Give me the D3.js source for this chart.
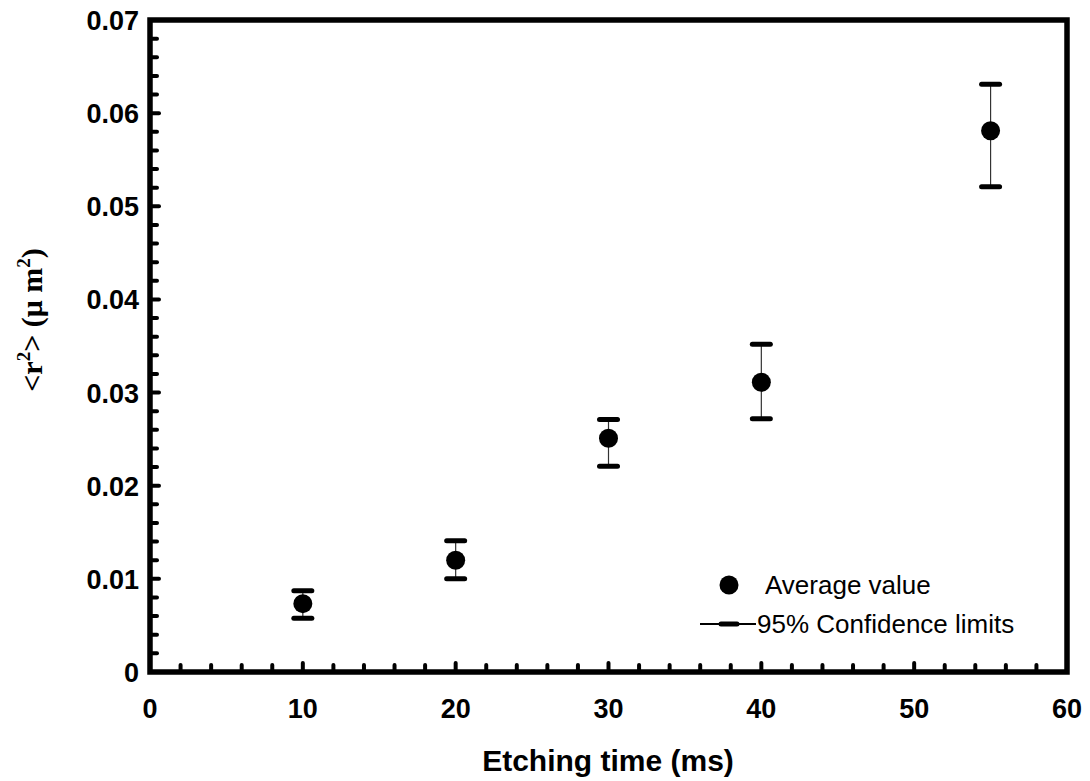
<!DOCTYPE html>
<html><head><meta charset="utf-8">
<script src="https://cdn.jsdelivr.net/npm/d3@7"></script>
<style>body{margin:0;background:#fff}svg{display:block}</style>
</head><body>
<script>
const etchTime = [10, 20, 30, 40, 55];
const avgValue = [0.00734, 0.0120, 0.0251, 0.0311, 0.0581];
const upperLimit = [0.00873, 0.0141, 0.0271, 0.0352, 0.0631];
const lowerLimit = [0.00577, 0.0100, 0.0221, 0.0272, 0.0521];
const xTicks = [0, 10, 20, 30, 40, 50, 60];
const yTicks = [0, 0.01, 0.02, 0.03, 0.04, 0.05, 0.06, 0.07];
const yTickLabels = ["0", "0.01", "0.02", "0.03", "0.04", "0.05", "0.06", "0.07"];

const W = 1090, H = 781;
const L = 150, R = 1067, T = 20, B = 672;
const svg = d3.select("body").append("svg").attr("width", W).attr("height", H);
const x = d3.scaleLinear().domain([0, 60]).range([L, R]);
const y = d3.scaleLinear().domain([0, 0.07]).range([B, T]);

// minor/major ticks (inward)
const xMinor = d3.range(0, 61, 2);
svg.append("g").selectAll("line").data(xMinor).enter().append("line")
  .attr("x1", d => x(d)).attr("x2", d => x(d))
  .attr("y1", B).attr("y2", d => B - (d % 10 === 0 ? 9 : 7))
  .attr("stroke", "#000").attr("stroke-width", 4).attr("stroke-linecap", "round");
const yMinor = d3.range(0, 36).map(i => i * 0.002);
svg.append("g").selectAll("line").data(yMinor).enter().append("line")
  .attr("y1", d => y(d)).attr("y2", d => y(d))
  .attr("x1", L).attr("x2", (d, i) => L + (i % 5 === 0 ? 9 : 7))
  .attr("stroke", "#000").attr("stroke-width", 4).attr("stroke-linecap", "round");

// frame
svg.append("rect").attr("x", L).attr("y", T).attr("width", R - L).attr("height", B - T)
  .attr("fill", "none").attr("stroke", "#000").attr("stroke-width", 5.5);

// tick labels
svg.append("g").selectAll("text").data(xTicks).enter().append("text")
  .attr("x", d => x(d)).attr("y", 718).attr("text-anchor", "middle")
  .attr("font-family", "Liberation Sans, Arial, sans-serif").attr("font-weight", "bold")
  .attr("font-size", 27).text(d => d);
svg.append("g").selectAll("text").data(yTicks).enter().append("text")
  .attr("x", 139).attr("y", d => y(d) + 10).attr("text-anchor", "end")
  .attr("font-family", "Liberation Sans, Arial, sans-serif").attr("font-weight", "bold")
  .attr("font-size", 27).text((d, i) => yTickLabels[i]);

// axis titles
svg.append("text").attr("x", 608).attr("y", 771).attr("text-anchor", "middle")
  .attr("font-family", "Liberation Sans, Arial, sans-serif").attr("font-weight", "bold")
  .attr("font-size", 30).text("Etching time (ms)");
const yt = svg.append("text").attr("transform", "translate(42,320) rotate(-90)")
  .attr("text-anchor", "middle")
  .attr("font-family", "Liberation Serif, Times New Roman, serif").attr("font-weight", "bold")
  .attr("font-size", 30);
yt.append("tspan").text("<r");
yt.append("tspan").attr("dy", -12).attr("font-size", 19).text("2");
yt.append("tspan").attr("dy", 12).text("> (μ m");
yt.append("tspan").attr("dy", -12).attr("font-size", 19).text("2");
yt.append("tspan").attr("dy", 12).text(")");

// error bars
const idx = d3.range(etchTime.length);
const g = svg.append("g");
g.selectAll(".stem").data(idx).enter().append("line")
  .attr("x1", i => x(etchTime[i])).attr("x2", i => x(etchTime[i]))
  .attr("y1", i => y(upperLimit[i])).attr("y2", i => y(lowerLimit[i]))
  .attr("stroke", "#333").attr("stroke-width", 1.2);
[upperLimit, lowerLimit].forEach(arr => {
  g.selectAll(null).data(idx).enter().append("line")
    .attr("x1", i => x(etchTime[i]) - 9).attr("x2", i => x(etchTime[i]) + 9)
    .attr("y1", i => y(arr[i])).attr("y2", i => y(arr[i]))
    .attr("stroke", "#000").attr("stroke-width", 5).attr("stroke-linecap", "round");
});
g.selectAll("circle").data(idx).enter().append("circle")
  .attr("cx", i => x(etchTime[i])).attr("cy", i => y(avgValue[i])).attr("r", 9.5)
  .attr("fill", "#000");

// legend
const lg = svg.append("g").attr("font-family", "Liberation Sans, Arial, sans-serif").attr("font-size", 26);
lg.append("circle").attr("cx", 729).attr("cy", 585).attr("r", 9.5).attr("fill", "#000");
lg.append("text").attr("x", 765).attr("y", 594).text("Average value");
lg.append("line").attr("x1", 700).attr("x2", 756).attr("y1", 624).attr("y2", 624)
  .attr("stroke", "#000").attr("stroke-width", 2);
lg.append("line").attr("x1", 721).attr("x2", 737).attr("y1", 624).attr("y2", 624)
  .attr("stroke", "#000").attr("stroke-width", 5).attr("stroke-linecap", "round");
lg.append("text").attr("x", 757).attr("y", 633).text("95% Confidence limits");
</script>
</body></html>
